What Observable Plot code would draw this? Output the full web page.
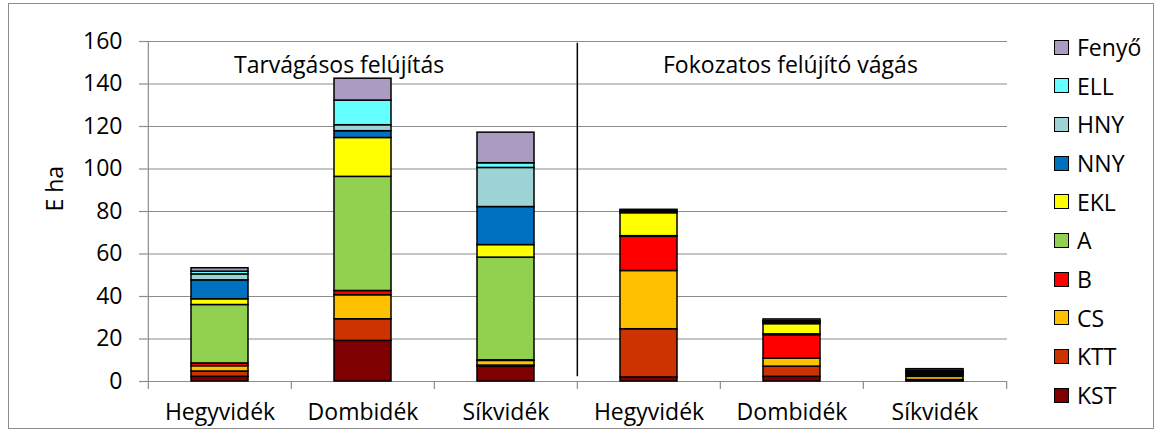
<!DOCTYPE html>
<html><head><meta charset="utf-8">
<script src="https://cdn.jsdelivr.net/npm/d3@7"></script>
<script src="https://cdn.jsdelivr.net/npm/@observablehq/plot@0.6"></script>
<style>
html,body{margin:0;padding:0;background:#fff;}
#wrap{position:relative;width:1159px;height:441px;font-family:'Open Sans',sans-serif;color:#000;}
#border{position:absolute;left:8px;top:3px;width:1146px;height:426px;border:1px solid #8e8e8e;box-sizing:border-box;}
#chart{position:absolute;left:0;top:0;}
#legend{position:absolute;left:1054px;top:0;}
.item{position:absolute;left:0;height:30px;display:flex;align-items:center;white-space:nowrap;font-size:23px;line-height:30px;}
.sw{width:15px;height:15px;border:1.5px solid #000;box-sizing:border-box;margin-right:8px;flex:none;}
</style></head><body>
<div id="wrap"><div id="border"></div><div id="chart"></div><div id="legend"></div></div>
<script>
const sections = ["Tarvágásos felújítás", "Fokozatos felújító vágás"];
const regions = ["Hegyvidék", "Dombidék", "Síkvidék"];
const seriesNames = ["KST", "KTT", "CS", "B", "A", "EKL", "NNY", "HNY", "ELL", "Fenyő"];
const seriesColors = ["#7f0000", "#cc3300", "#ffc000", "#ff0000", "#92d050", "#ffff00", "#0070c0", "#9ed3d6", "#66ffff", "#a99cc0"];
// values per bar: Tarvágásos (Hegy, Domb, Sík), Fokozatos (Hegy, Domb, Sík)
const KST   = [2.2, 19.1, 6.9, 1.9, 2.2, 0.3];
const KTT   = [2.5, 10.2, 0.6, 22.7, 4.8, 0.4];
const CS    = [2.5, 11.3, 2.2, 27.4, 3.8, 1.5];
const B     = [1.3, 2.0, 0.3, 16.1, 11.0, 0.6];
const A     = [27.5, 53.7, 48.3, 0.3, 0.4, 0.6];
const EKL   = [2.7, 18.3, 5.9, 10.8, 4.8, 0.6];
const NNY   = [8.9, 3.2, 17.9, 0.5, 0.5, 0.4];
const HNY   = [2.8, 2.8, 18.4, 0.3, 0.5, 0.3];
const ELL   = [1.3, 11.6, 2.2, 0.2, 0.4, 0.3];
const Fenyo = [1.6, 10.3, 14.4, 0.6, 0.8, 0.8];
const yTicks = [0, 20, 40, 60, 80, 100, 120, 140, 160];
const yLabel = "E ha";
const dividerSpan = [2.2, 159.2];

const seriesValues = {KST, KTT, CS, B, A, EKL, NNY, HNY, ELL, "Fenyő": Fenyo};
const keys = sections.flatMap(s => regions.map(r => s + "|" + r));
const table = seriesNames.flatMap(name => keys.map((k, i) => ({key: k, series: name, value: seriesValues[name][i]})));

const W = 1159, H = 441, mL = 147, mR = 152, mT = 41, mB = 60;
const step = (W - mL - mR) / keys.length;
const gray = "#8c8c8c";

const chart = Plot.plot({
  width: W, height: H, marginLeft: mL, marginRight: mR, marginTop: mT, marginBottom: mB,
  style: {fontFamily: "'Open Sans', sans-serif", fontSize: "23px", color: "#000", background: "transparent", overflow: "visible"},
  x: {domain: keys, paddingInner: 0.6, paddingOuter: 0.3, axis: null},
  y: {domain: [0, 160], axis: null},
  color: {domain: seriesNames, range: seriesColors},
  marks: [
    Plot.gridY(yTicks.filter(t => t > 0), {stroke: gray, strokeOpacity: 1, strokeWidth: 1.2}),
    Plot.ruleY([0], {stroke: gray, strokeWidth: 1.2}),
    Plot.ruleX([keys[0]], {x: d => d, dx: -step / 2, y1: 0, y2: 160, stroke: gray, strokeWidth: 1.2}),
    Plot.axisY(yTicks, {tickSize: 8, tickPadding: 17, stroke: gray, strokeWidth: 1.2, label: null, fontSize: 23}),
    Plot.axisX(keys, {tickSize: 8, dx: -step / 2, tickFormat: () => "", stroke: gray, strokeWidth: 1.2, label: null}),
    Plot.axisX([keys[keys.length - 1]], {tickSize: 8, dx: step / 2, tickFormat: () => "", stroke: gray, strokeWidth: 1.2, label: null}),
    Plot.axisX(keys, {tickSize: 0, tickPadding: 22, tickFormat: d => d.split("|")[1], label: null, fontSize: 23}),
    Plot.barY(table, {x: "key", y: "value", fill: "series", stroke: "#000", strokeWidth: 1.5, order: seriesNames}),
    Plot.ruleX([keys[3]], {x: d => d, dx: -step / 2, y1: dividerSpan[0], y2: dividerSpan[1], stroke: "#000", strokeWidth: 1.5}),
    Plot.text(sections, {x: (d, i) => keys[i * 3], text: d => d, textAnchor: "start", dx: 14, frameAnchor: "top", dy: 15, fontSize: 23, fill: "#000"}),
    Plot.text([yLabel], {frameAnchor: "left", rotate: -90, dx: -92, fontSize: 23, fill: "#000"})
  ]
});
document.getElementById("chart").appendChild(chart);

const legend = document.getElementById("legend");
const legendOrder = seriesNames.slice().reverse();
legendOrder.forEach((name, i) => {
  const item = document.createElement("div");
  item.className = "item";
  item.style.top = (47 + i * 38.67 - 15) + "px";
  const sw = document.createElement("span");
  sw.className = "sw";
  sw.style.background = seriesColors[seriesNames.indexOf(name)];
  const label = document.createElement("span");
  label.textContent = name;
  item.appendChild(sw);
  item.appendChild(label);
  legend.appendChild(item);
});
</script>
</body></html>
